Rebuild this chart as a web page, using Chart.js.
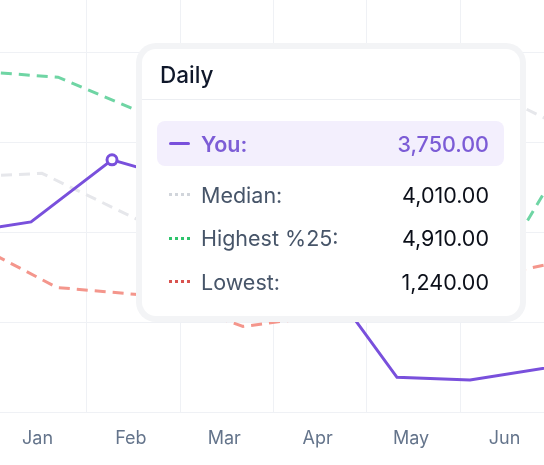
<!DOCTYPE html>
<html>
<head>
<meta charset="utf-8">
<script src="https://cdn.jsdelivr.net/npm/chart.js@4.4.0/dist/chart.umd.min.js"></script>
<style>
  body { margin: 0; background: #fff; font-family: Inter, "Noto Sans", sans-serif; }
  #wrap { position: relative; width: 544px; height: 465px; overflow: hidden; }
  #chart { display: block; }
  .tip {
    position: absolute; left: 142px; top: 49px; width: 378px; height: 267px;
    background: #fff; border-radius: 14px; box-shadow: 0 0 0 6px #f3f4f6;
    box-sizing: border-box;
  }
  .tip-head {
    height: 51px; line-height: 51px; padding-left: 18px; font-size: 22.5px; font-weight: 500;
    color: #0f172a; border-bottom: 1.5px solid #eceef2; box-sizing: border-box;
  }
  .tip-body { padding: 21px 16px 0 15px; }
  .row {
    display: flex; align-items: center; height: 43.5px; padding: 0 15px 0 12px;
    font-size: 21.5px; border-radius: 8px;
  }
  .row.active { height: 45px; margin-bottom: 7px; background: #f3effd; font-weight: 600; }
  .row .icon { width: 21px; height: 3px; margin-right: 11px; }
  .row .lab { flex: 1; color: #475569; }
  .row .val { color: #0b0f19; font-weight: 400; }
  .row.active .val { font-weight: 500; }
</style>
</head>
<body>
<div id="wrap">
  <canvas id="chart" width="544" height="465"></canvas>
  <div class="tip" id="tip"></div>
</div>
<script>
// month labels on the x axis (x = 0 is Jan)
const months = ['Jan', 'Feb', 'Mar', 'Apr', 'May', 'Jun'];
// horizontal grid positions (y axis labels are hidden)
const yTicks = [0, 1000, 2000, 3000, 4000];

// series: x positions in months, y values
const youX = [-1.0, -0.096, 0.771, 1.713, 2.784, 3.822, 4.604, 5.996];
const youY = [1970, 2120, 2810, 2530, 1870, 390, 360, 590];

const medianX = [-0.995, 0.021, 1.713, 3.105, 4.711, 5.996];
const medianY = [2610, 2660, 1810, 2480, 3630, 2970];

const highX = [-0.996, 0.193, 1.927, 3.640, 4.818, 5.996];
const highY = [3820, 3730, 2970, 1810, 1440, 3480];

const lowX = [-0.996, 0.182, 1.285, 2.173, 3.212, 4.390, 5.996];
const lowY = [2030, 1390, 1290, 956, 1100, 1420, 1770];

const activeIndex = 2; // hovered point on "You"

// tooltip contents
const tooltipTitle = 'Daily';
const tooltipLabels = ['You:', 'Median:', 'Highest %25:', 'Lowest:'];
const tooltipValues = [3750, 4010, 4910, 1240];

const purple = '#7950dc';
const gridColor = '#eff1f5';
const xMin = -0.4283, xMax = 5.3961;

function pts(xs, ys) {
    return xs.map((x, i) => ({ x: x, y: ys[i] }));
}

const ctx = document.getElementById('chart').getContext('2d');
new Chart(ctx, {
    type: 'line',
    data: {
        datasets: [
            {
                label: 'You',
                data: pts(youX, youY),
                borderColor: purple,
                borderWidth: 3,
                pointRadius: youX.map((_, i) => i === activeIndex ? 5 : 0),
                pointBackgroundColor: '#fff',
                pointBorderColor: purple,
                pointBorderWidth: 3
            },
            {
                label: 'Median',
                data: pts(medianX, medianY),
                borderColor: '#e6e7eb',
                borderWidth: 3,
                borderDash: [11, 7],
                pointRadius: 0
            },
            {
                label: 'Highest %25',
                data: pts(highX, highY),
                borderColor: '#6fd5a4',
                borderWidth: 3,
                borderDash: [11, 7],
                pointRadius: 0
            },
            {
                label: 'Lowest',
                data: pts(lowX, lowY),
                borderColor: '#f4968c',
                borderWidth: 3,
                borderDash: [11, 7],
                pointRadius: 0
            }
        ]
    },
    options: {
        responsive: false,
        animation: false,
        events: [],
        layout: { padding: { left: 0, right: 0, top: 0, bottom: 1 } },
        plugins: {
            legend: { display: false },
            tooltip: { enabled: false }
        },
        scales: {
            x: {
                type: 'linear',
                min: xMin,
                max: xMax,
                afterBuildTicks: axis => {
                    const t = [];
                    months.forEach((m, i) => {
                        t.push({ value: i });
                        if (i + 0.5 < xMax) t.push({ value: i + 0.5 });
                    });
                    axis.ticks = t;
                },
                border: { display: false },
                grid: {
                    drawTicks: false,
                    color: c => Number.isInteger(c.tick && c.tick.value) ? 'transparent' : gridColor
                },
                ticks: {
                    autoSkip: false,
                    maxRotation: 0,
                    padding: 15,
                    labelOffset: -2.5,
                    color: '#64748b',
                    font: { family: 'Inter', size: 18 },
                    callback: v => Number.isInteger(v) ? months[v] : ''
                }
            },
            y: {
                min: 0,
                max: 4589,
                afterBuildTicks: axis => { axis.ticks = yTicks.map(v => ({ value: v })); },
                border: { display: false },
                grid: { drawTicks: false, color: gridColor },
                ticks: { display: false },
                afterFit: s => { s.width = 0; }
            }
        }
    }
});

// tooltip panel
const iconColors = [purple, '#d1d5db', '#2ec46c', '#d9534f'];
const tip = document.getElementById('tip');
let html = '<div class="tip-head">' + tooltipTitle + '</div><div class="tip-body">';
tooltipLabels.forEach((lab, i) => {
    const val = tooltipValues[i].toLocaleString('en-US', { minimumFractionDigits: 2, maximumFractionDigits: 2 });
    const c = iconColors[i];
    const icon = i === 0
        ? 'background:' + c + ';height:3.5px;border-radius:2px;'
        : 'background:repeating-linear-gradient(90deg,' + c + ' 0 3px,transparent 3px 6px);';
    if (i === 0) {
        html += '<div class="row active"><span class="icon" style="' + icon + '"></span>' +
            '<span class="lab" style="color:#7c5cd6">' + lab + '</span>' +
            '<span class="val" style="color:#7c5cd6">' + val + '</span></div>';
    } else {
        html += '<div class="row"><span class="icon" style="' + icon + '"></span>' +
            '<span class="lab">' + lab + '</span><span class="val">' + val + '</span></div>';
    }
});
html += '</div>';
tip.innerHTML = html;
</script>
</body>
</html>
